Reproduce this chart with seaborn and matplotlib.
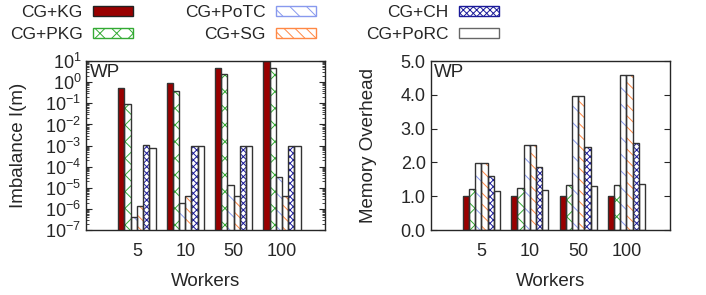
import matplotlib
matplotlib.use("Agg")
import matplotlib.pyplot as plt
from matplotlib.patches import Patch
import pandas as pd
import seaborn as sns
from matplotlib.ticker import LogLocator, NullFormatter, FormatStrFormatter

# --- data ---
workers = ["5", "10", "50", "100"]
schemes = ["CG+KG", "CG+PKG", "CG+PoTC", "CG+SG", "CG+CH", "CG+PoRC"]

imb_kg = [0.51, 0.9, 4.8, 10.0]
imb_pkg = [0.093, 0.37, 2.4, 4.8]
imb_potc = [4.2e-7, 1.9e-6, 1.35e-5, 3.3e-5]
imb_sg = [1.4e-6, 3.9e-6, 3.9e-6, 3.9e-6]
imb_ch = [1.05e-3, 1.0e-3, 1.0e-3, 1.0e-3]
imb_porc = [8.0e-4, 1.0e-3, 1.0e-3, 1.0e-3]

mem_kg = [1.0, 1.0, 1.0, 1.0]
mem_pkg = [1.23, 1.26, 1.32, 1.33]
mem_potc = [1.98, 2.53, 3.98, 4.58]
mem_sg = [1.98, 2.53, 3.98, 4.58]
mem_ch = [1.61, 1.87, 2.46, 2.59]
mem_porc = [1.15, 1.2, 1.29, 1.36]

# styles per scheme
face = ["#990000", "white", "white", "white", "white", "white"]
hatch_col = ["#222222", "#33aa33", "#8899ee", "#ff8844", "#1a1a99", "#666666"]
hatches = ["", "xx", "\\\\", "\\\\\\", "xxxxx", ""]


def to_long(cols):
    rows = []
    for s, vals in zip(schemes, cols):
        for w, v in zip(workers, vals):
            rows.append({"Workers": w, "Scheme": s, "Value": v})
    return pd.DataFrame(rows)


imb_df = to_long([imb_kg, imb_pkg, imb_potc, imb_sg, imb_ch, imb_porc])
mem_df = to_long([mem_kg, mem_pkg, mem_potc, mem_sg, mem_ch, mem_porc])

sns.set_style("ticks")
plt.rcParams["font.family"] = ["Liberation Sans", "DejaVu Sans"]
plt.rcParams["hatch.linewidth"] = 0.7

fig = plt.figure(figsize=(7.06, 2.95), dpi=100)
ax1 = fig.add_axes([0.122, 0.220, 0.339, 0.573])
ax2 = fig.add_axes([0.610, 0.220, 0.339, 0.573])


def draw(ax, df, log):
    if log:
        ax.set_yscale("log")
    sns.barplot(data=df, x="Workers", y="Value", hue="Scheme", order=workers,
                hue_order=schemes, palette=face, width=0.77, dodge=True,
                legend=False, ax=ax, saturation=1)
    for i, cont in enumerate(ax.containers):
        for p in cont.patches:
            p.set_hatch(hatches[i])
            p.set_edgecolor(hatch_col[i])
            p.set_linewidth(0.0)
    n = len(ax.containers)
    # dark outlines on top
    sns.barplot(data=df, x="Workers", y="Value", hue="Scheme", order=workers,
                hue_order=schemes, width=0.77, dodge=True, fill=False,
                legend=False, ax=ax)
    for cont in ax.containers[n:]:
        for p in cont.patches:
            p.set_edgecolor("#333333")
            p.set_linewidth(1.0)
    ax.set_xlim(-1.05, 3.9)
    ax.set_xlabel("Workers", fontsize=13.5, labelpad=10)
    ax.tick_params(axis="x", length=0, labelsize=13, pad=9)
    ax.tick_params(axis="y", which="both", direction="in", right=True, labelsize=13)
    ax.tick_params(axis="y", which="major", length=4)
    ax.tick_params(axis="y", which="minor", length=2)
    ax.text(0.015, 0.985, "WP", transform=ax.transAxes, fontsize=13.5,
            va="top", ha="left")
    for sp in ax.spines.values():
        sp.set_visible(True)
        sp.set_linewidth(1.0)


draw(ax1, imb_df, True)
ax1.set_ylim(1e-7, 10)
ax1.yaxis.set_major_locator(LogLocator(base=10, numticks=10))
ax1.yaxis.set_minor_locator(LogLocator(base=10, subs=range(2, 10), numticks=10))
ax1.yaxis.set_minor_formatter(NullFormatter())
ax1.set_ylabel("Imbalance I(m)", fontsize=13.5, labelpad=13)

draw(ax2, mem_df, False)
ax2.set_ylim(0, 5)
ax2.set_yticks([0, 1, 2, 3, 4, 5])
ax2.yaxis.set_major_formatter(FormatStrFormatter("%.1f"))
ax2.set_ylabel("Memory Overhead", fontsize=13.5, labelpad=17)

# legend: three columns, label left of the swatch
handles = [Patch(facecolor=face[i], edgecolor=hatch_col[i], hatch=hatches[i],
                 linewidth=1.0) for i in range(len(schemes))]
col_right = [133 / 706, 316 / 706, 499 / 706]
for c in range(3):
    fig.legend(handles[2 * c:2 * c + 2], schemes[2 * c:2 * c + 2],
               loc="upper right", bbox_to_anchor=(col_right[c], 1 - 5 / 295),
               frameon=False, markerfirst=False, fontsize=12.5,
               handlelength=2.3, handleheight=0.55, borderpad=0.0,
               borderaxespad=0, labelspacing=0.4, handletextpad=0.6)

fig.savefig("out.png", dpi=100)
